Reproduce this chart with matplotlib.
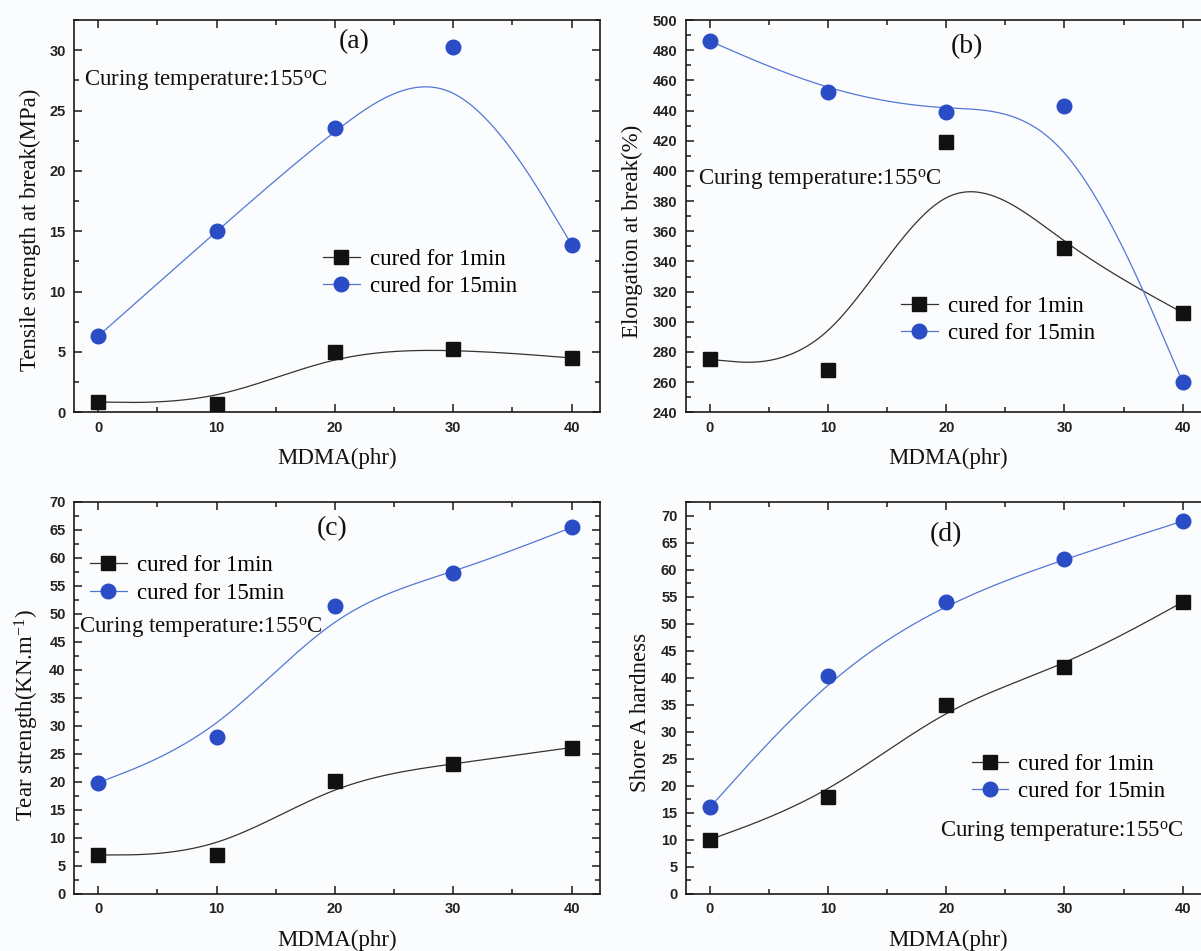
import numpy as np
import matplotlib
matplotlib.use("Agg")
import matplotlib.pyplot as plt
from matplotlib.lines import Line2D
from matplotlib.ticker import MultipleLocator

plt.rcParams['mathtext.fontset'] = 'custom'
plt.rcParams['mathtext.rm'] = 'Liberation Serif'
plt.rcParams['mathtext.it'] = 'Liberation Serif:italic'

# ---------------- data ----------------
mdma = [0, 10, 20, 30, 40]

tensile_1min = [0.85, 0.72, 5.0, 5.28, 4.5]
tensile_15min = [6.32, 15.0, 23.55, 30.27, 13.9]

elong_1min = [275, 268, 419, 349, 306]
elong_15min = [486, 452, 439, 443, 260]

tear_1min = [6.9, 7.0, 20.2, 23.2, 26.1]
tear_15min = [19.8, 28.0, 51.4, 57.2, 65.4]

shore_1min = [10.0, 18.0, 35.0, 42.0, 54.0]
shore_15min = [16.0, 40.4, 54.1, 62.0, 69.0]

labels = ["cured for 1min", "cured for 15min"]
ylabels = ["Tensile strength at break(MPa)", "Elongation at break(%)",
           r"Tear strength(KN.m$^{\mathregular{-1}}$)", "Shore A hardness"]
panel_tags = ["(a)", "(b)", "(c)", "(d)"]
xlabel = "MDMA(phr)"
note = r"Curing temperature:155$^{\mathregular{o}}$C"

# ---------------- helpers ----------------
W, H = 1201, 951
fig = plt.figure(figsize=(W / 100, H / 100), dpi=100, facecolor='#fbfcfe')

def fx(px):
    return px / W

def fy(py):
    return 1 - py / H

def bspline(px, py, num=80):
    """Uniform cubic B-spline using the data as control points,
    end points tripled so the curve starts/ends on them."""
    px = list(map(float, px))
    py = list(map(float, py))
    ex = [px[0]] * 2 + px + [px[-1]] * 2
    ey = [py[0]] * 2 + py + [py[-1]] * 2
    s = np.linspace(0, 1, num)
    b0 = (1 - s) ** 3 / 6
    b1 = (3 * s ** 3 - 6 * s ** 2 + 4) / 6
    b2 = (-3 * s ** 3 + 3 * s ** 2 + 3 * s + 1) / 6
    b3 = s ** 3 / 6
    cx, cy = [], []
    for i in range(len(ex) - 3):
        cx.append(b0 * ex[i] + b1 * ex[i + 1] + b2 * ex[i + 2] + b3 * ex[i + 3])
        cy.append(b0 * ey[i] + b1 * ey[i + 1] + b2 * ey[i + 2] + b3 * ey[i + 3])
    return np.concatenate(cx), np.concatenate(cy)

BLACK = '#111111'
BLUE = '#2a4cc4'
BLUE_LINE = '#5577d4'
LINE_BLACK = '#333333'
SERIF = 'Liberation Serif'
SANS = 'Liberation Sans'

# axes boxes in pixels: left, right, top, bottom
boxes = [(74, 600, 20, 412.3),
         (685.7, 1211, 20, 412.3),
         (74, 600, 501.7, 893.7),
         (685.7, 1211, 501.7, 893.7)]

ylims = [(0, 32.5), (240, 500), (0, 70), (0, 72.6)]
ymajor = [5, 20, 5, 5]
yminor = [2.5, 10, 2.5, 2.5]

series = [(tensile_1min, tensile_15min), (elong_1min, elong_15min),
          (tear_1min, tear_15min), (shore_1min, shore_15min)]

tag_pos = [(354, 41.7), (966.6, 46.7), (332, 529), (945.6, 535)]
note_pos = [(84, 80), (698, 180), (79, 628), (940, 831.7)]
legend_pos = [(323, 273), (901, 320), (90, 579.5), (971.5, 778)]
ylabel_pos = [(30.6, 230), (632.5, 231), (27, 715), (640, 712)]
xlabel_pos = [(337, 458), (948, 458), (337, 940), (948, 940)]

for k in range(4):
    l, r, t_, b = boxes[k]
    ax = fig.add_axes([fx(l), fy(b), (r - l) / W, (b - t_) / H])
    ax.set_facecolor('#fbfcfe')
    ax.set_xlim(-2.05, 42.4)
    ax.set_ylim(*ylims[k])
    ax.xaxis.set_major_locator(MultipleLocator(10))
    ax.xaxis.set_minor_locator(MultipleLocator(5))
    ax.yaxis.set_major_locator(MultipleLocator(ymajor[k]))
    ax.yaxis.set_minor_locator(MultipleLocator(yminor[k]))
    ax.tick_params(which='both', direction='in', top=True, right=True,
                   colors='#1a1a1a', width=1.1)
    ax.tick_params(which='major', length=6, pad=6, labelsize=10.5)
    ax.tick_params(which='minor', length=3.3)
    for lab in ax.get_xticklabels() + ax.get_yticklabels():
        lab.set_fontfamily(SANS)
        lab.set_fontweight('bold')
        lab.set_color('#222222')
    for s in ax.spines.values():
        s.set_linewidth(1.2)
        s.set_color('#1a1a1a')

    y1, y15 = series[k]
    cx, cy = bspline(mdma, y1)
    ax.plot(cx, cy, color=LINE_BLACK, lw=0.9, zorder=2)
    cx, cy = bspline(mdma, y15)
    ax.plot(cx, cy, color=BLUE_LINE, lw=0.9, zorder=2)
    ax.plot(mdma, y1, ls='none', marker='s', ms=10, color=BLACK, zorder=3, clip_on=False)
    ax.plot(mdma, y15, ls='none', marker='o', ms=10.5, color=BLUE, zorder=3, clip_on=False)

    h1 = Line2D([], [], color=LINE_BLACK, lw=0.9, marker='s', ms=10,
                markerfacecolor=BLACK, markeredgecolor=BLACK)
    h2 = Line2D([], [], color=BLUE_LINE, lw=0.9, marker='o', ms=10.5,
                markerfacecolor=BLUE, markeredgecolor=BLUE)
    lx, ly = legend_pos[k]
    fig.legend([h1, h2], labels, loc='center left',
               bbox_to_anchor=(fx(lx), fy(ly)), bbox_transform=fig.transFigure,
               frameon=False, borderpad=0, borderaxespad=0, handlelength=1.6,
               handletextpad=0.45, labelspacing=0.28, numpoints=1,
               prop={'family': SERIF, 'size': 16.5})

    tx, ty = tag_pos[k]
    fig.text(fx(tx), fy(ty), panel_tags[k], ha='center', va='center',
             family=SERIF, fontsize=20, color='#111111')
    nx, ny = note_pos[k]
    fig.text(fx(nx), fy(ny), note, ha='left', va='center',
             family=SERIF, fontsize=16.5, color='#111111')
    yx, yy = ylabel_pos[k]
    fig.text(fx(yx), fy(yy), ylabels[k], ha='center', va='center', rotation=90,
             family=SERIF, fontsize=16.5, color='#111111')
    xx, xy = xlabel_pos[k]
    fig.text(fx(xx), fy(xy), xlabel, ha='center', va='center',
             family=SERIF, fontsize=16.5, color='#111111')

fig.savefig('out.png', dpi=100, facecolor=fig.get_facecolor())
